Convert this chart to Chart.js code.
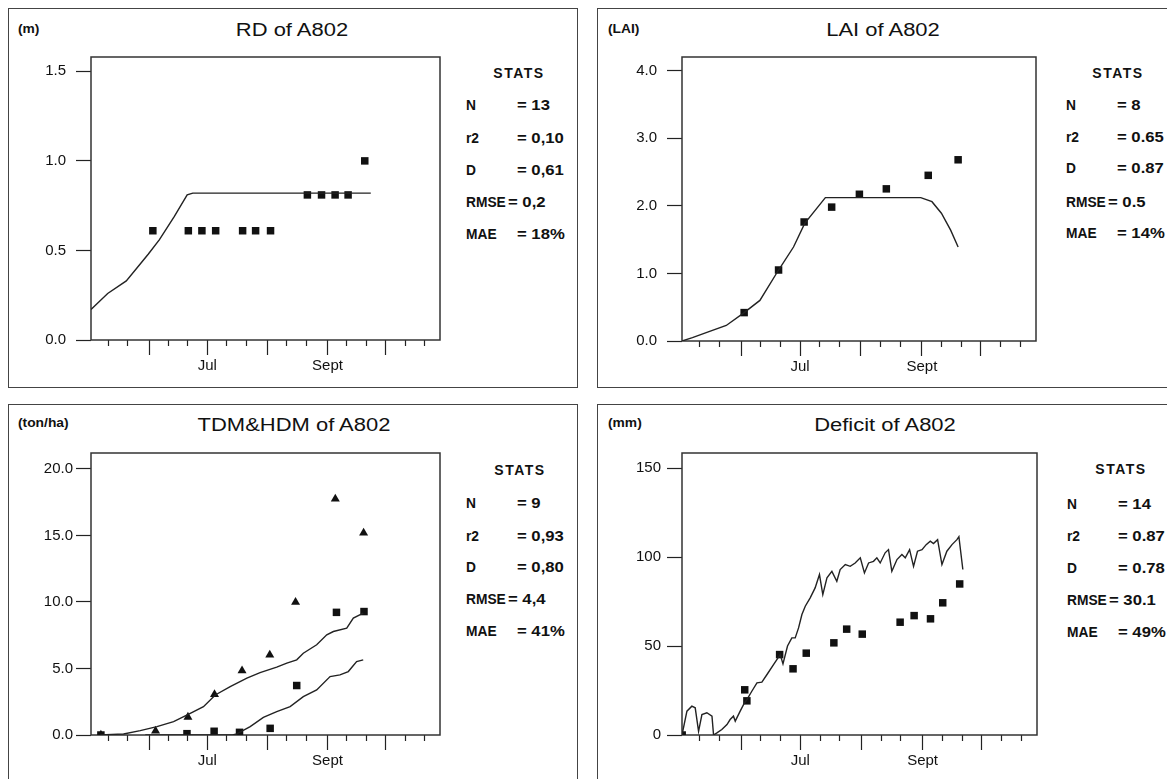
<!DOCTYPE html>
<html>
<head>
<meta charset="utf-8">
<title>A802</title>
<script src="https://cdn.jsdelivr.net/npm/chart.js@4.4.1/dist/chart.umd.min.js"></script>
<style>
  body { margin: 0; width: 1167px; height: 779px; overflow: hidden; position: relative;
         background: #fff; color: #111; font-family: "Liberation Sans", Arial, sans-serif; }
  .frame { position: absolute; border: 1.5px solid #444; box-sizing: border-box; }
  .t { position: absolute; white-space: nowrap; line-height: 1; }
  .title { font-size: 18px; transform: translate(-50%, -50%) scaleX(1.22); }
  .unit { font-size: 12px; font-weight: bold; transform-origin: left center; transform: translateY(-50%) scaleX(1.15); }
  .sc { font-size: 14px; font-weight: bold; letter-spacing: 1.5px; transform: translate(-50%, -50%); }
  .sl { font-size: 14.5px; font-weight: bold; transform-origin: left center; transform: translateY(-50%) scaleX(0.95); }
  .sv { font-size: 14.5px; font-weight: bold; transform-origin: left center; transform: translateY(-50%) scaleX(1.15); }
  canvas { position: absolute; }
</style>
</head>
<body>
<div class="frame" style="left:8px;top:8px;width:570px;height:380px"></div>
<div class="frame" style="left:597px;top:8px;width:600px;height:380px"></div>
<div class="frame" style="left:8px;top:404px;width:570px;height:420px"></div>
<div class="frame" style="left:597px;top:404px;width:600px;height:420px"></div>

<div class="t unit" style="left:18px;top:29px">(m)</div>
<div class="t title" style="left:292px;top:30px">RD of A802</div>
<div class="t unit" style="left:608px;top:29px">(LAI)</div>
<div class="t title" style="left:883px;top:30px">LAI of A802</div>
<div class="t unit" style="left:18px;top:423px">(ton/ha)</div>
<div class="t title" style="left:294px;top:425px">TDM&amp;HDM of A802</div>
<div class="t unit" style="left:608px;top:423px">(mm)</div>
<div class="t title" style="left:885px;top:425px">Deficit of A802</div>

<div id="stats"></div>

<canvas id="rd"></canvas>
<canvas id="lai"></canvas>
<canvas id="dm"></canvas>
<canvas id="def"></canvas>

<script>
// x axis: day of year, ticks every ten days, long ticks on the 1st of the month
const xTickDays = [131, 141, 152, 162, 172, 182, 192, 202, 213, 223, 233, 244, 254, 264, 274, 284, 294];
const monthStartDays = [152, 182, 213, 244, 274];
const xLabelDays = [182, 244];
const xLabelText = ['Jul', 'Sept'];

// RD (m)
const rdSimDay = [122, 130.6, 140.2, 147.8, 151.6, 157.3, 165.0, 171.6, 174.5, 266.3];
const rdSimVal = [0.17, 0.26, 0.33, 0.43, 0.48, 0.56, 0.69, 0.81, 0.82, 0.82];
const rdObsDay = [153.9, 172.2, 179.2, 186.3, 200.2, 206.9, 214.6, 233.6, 240.9, 247.9, 254.6, 263.2];
const rdObsVal = [0.61, 0.61, 0.61, 0.61, 0.61, 0.61, 0.61, 0.81, 0.81, 0.81, 0.81, 1.0];
const rdTicks = [0, 0.5, 1.0, 1.5];
const rdTickLabels = ['0.0', '0.5', '1.0', '1.5'];

// LAI
const laiSimDay = [122, 127.3, 135.0, 144.5, 153.6, 161.6, 171.1, 178.7, 184.4, 194.9, 243.4, 249.1, 253.9, 258.6, 262.4];
const laiSimVal = [0, 0.05, 0.13, 0.23, 0.42, 0.60, 1.05, 1.39, 1.74, 2.12, 2.12, 2.06, 1.89, 1.64, 1.39];
const laiObsDay = [153.6, 171.1, 184.1, 198.1, 212.2, 225.9, 247.2, 262.4];
const laiObsVal = [0.42, 1.05, 1.76, 1.98, 2.17, 2.25, 2.45, 2.68];
const laiTicks = [0, 1, 2, 3, 4];
const laiTickLabels = ['0.0', '1.0', '2.0', '3.0', '4.0'];

// TDM & HDM (ton/ha)
const tdmSimDay = [126.8, 138.8, 147.4, 156.0, 164.6, 173.2, 180.0, 186.1, 193.8, 202.4, 209.2, 217.8, 223.0, 228.1, 231.5, 238.4, 243.6, 247.0, 253.9, 257.3, 262.4];
const tdmSimVal = [0, 0.08, 0.33, 0.63, 1.0, 1.63, 2.13, 3.01, 3.64, 4.27, 4.69, 5.1, 5.4, 5.65, 6.15, 6.78, 7.53, 7.78, 8.03, 8.79, 9.16];
const hdmSimDay = [150, 195, 197.2, 204.1, 210.9, 217.8, 224.7, 231.5, 238.4, 245.3, 250.4, 254.7, 259.0, 262.4];
const hdmSimVal = [0, 0, 0.08, 0.63, 1.33, 1.76, 2.13, 2.88, 3.39, 4.39, 4.52, 4.77, 5.52, 5.65];
const tdmObsDay = [127.1, 155.3, 172.0, 185.7, 199.9, 214.2, 227.5, 248.0, 262.6];
const tdmObsVal = [0.0, 0.3, 1.35, 3.05, 4.83, 6.02, 9.98, 17.75, 15.19];
const hdmObsDay = [127.1, 171.5, 185.5, 198.6, 214.4, 228.1, 248.6, 262.8];
const hdmObsVal = [0.0, 0.1, 0.28, 0.2, 0.5, 3.72, 9.22, 9.28];
const dmTicks = [0, 5, 10, 15, 20];
const dmTickLabels = ['0.0', '5.0', '10.0', '15.0', '20.0'];

// Deficit (mm)
const defSimDay = [122.0, 124.5, 127.0, 128.7, 130.4, 132.1, 134.6, 137.2, 138.0, 139.7, 142.2, 144.8, 146.4, 148.1, 149.0,
  151.5, 153.2, 154.9, 157.4, 160.0, 162.5, 165.1, 168.4, 171.8, 173.2, 175.5, 177.7, 179.4, 181.1, 182.8, 184.5, 187.0,
  189.5, 191.7, 193.4, 195.5, 198.0, 200.5, 202.2, 204.8, 207.3, 209.8, 212.4, 214.5, 216.6, 219.1, 220.8, 222.5, 225.0,
  226.7, 228.4, 231.0, 233.5, 235.2, 237.4, 239.4, 241.4, 243.7, 245.8, 247.9, 249.5, 251.6, 253.8, 256.3, 258.9, 261.4,
  262.4, 264.4];
const defSimVal = [0, 13.4, 16.2, 15.3, 2.1, 11.5, 12.5, 10.6, 0, 1.2, 3.1, 5.9, 8.7, 10.6, 7.8,
  13.4, 17.1, 19.9, 24.6, 29.3, 29.7, 34.0, 39.6, 45.2, 40.0, 50.0, 54.6, 54.6, 60.2, 67.7, 72.4, 77.1,
  82.7, 90.2, 78.9, 88.3, 92.0, 86.4, 93.0, 95.8, 94.8, 96.7, 99.6, 91.1, 96.7, 97.6, 99.6, 96.7, 102.4,
  104.2, 92.0, 98.6, 101.4, 99.6, 104.2, 94.8, 103.3, 104.2, 107.0, 108.9, 107.6, 109.8, 95.8, 103.3, 107.0, 109.8,
  111.5, 93.0];
const defObsDay = [122.1, 153.8, 154.9, 171.5, 178.3, 185.0, 199.0, 205.5, 213.4, 232.6, 239.7, 248.0, 254.2, 262.8];
const defObsVal = [0, 25.4, 19.2, 45.2, 37.2, 46.0, 51.8, 59.5, 56.7, 63.4, 67.1, 65.3, 74.3, 84.9];
const defTicks = [0, 50, 100, 150];
const defTickLabels = ['0', '50', '100', '150'];

// stats boxes
const statNames = ['N', 'r2', 'D', 'RMSE', 'MAE'];
const rdStats = ['= 13', '= 0,10', '= 0,61', '= 0,2', '= 18%'];
const laiStats = ['= 8', '= 0.65', '= 0.87', '= 0.5', '= 14%'];
const dmStats = ['= 9', '= 0,93', '= 0,80', '= 4,4', '= 41%'];
const defStats = ['= 14', '= 0.87', '= 0.78', '= 30.1', '= 49%'];

const FONT = '"Liberation Sans", Arial, sans-serif';
Chart.defaults.font.family = FONT;
Chart.defaults.color = '#111';

function addStats(head, x, values, rows, xRmse) {
  const box = document.getElementById('stats');
  let h = `<div class="t sc" style="left:${head[0]}px;top:${head[1]}px">STATS</div>`;
  statNames.forEach((n, i) => {
    const vx = n === 'RMSE' ? xRmse : x + 51;
    h += `<div class="t sl" style="left:${x}px;top:${rows[i]}px">${n}</div>`;
    h += `<div class="t sv" style="left:${vx}px;top:${rows[i]}px">${values[i]}</div>`;
  });
  box.insertAdjacentHTML('beforeend', h);
}
addStats([519, 73], 466, rdStats, [105, 138, 170, 202, 234], 508);
addStats([1118, 73], 1066, laiStats, [105, 137, 168, 202, 233], 1108);
addStats([520, 470], 466, dmStats, [503, 536, 567, 599, 631], 508);
addStats([1121, 469], 1067, defStats, [504, 536, 568, 600, 632], 1109);

const plotFrame = {
  id: 'plotFrame',
  beforeDatasetsDraw(chart) {
    const { ctx, chartArea: a } = chart;
    ctx.save();
    ctx.strokeStyle = '#333';
    ctx.lineWidth = 1.5;
    ctx.strokeRect(a.left, a.top, a.right - a.left, a.bottom - a.top);
    ctx.restore();
  }
};

const pts = (xs, ys) => xs.map((x, i) => ({ x: x, y: ys[i] }));

function simLine(xs, ys) {
  return { data: pts(xs, ys), showLine: true, pointRadius: 0, borderColor: '#222', borderWidth: 1.4, fill: false, tension: 0 };
}
function obs(xs, ys, style) {
  return { data: pts(xs, ys), showLine: false, pointStyle: style, pointRadius: style === 'rect' ? 5.3 : 5.2,
    backgroundColor: '#111', borderColor: '#111', borderWidth: 0 };
}

const AXW = 80, AXH = 40, PT = 24, PR = 12;

function makePanel(id, box, yMax, yTicks, yLabels, yPad, datasets) {
  const cv = document.getElementById(id);
  cv.width = box.r - box.l + AXW + PR;
  cv.height = box.b - box.t + PT + AXH;
  cv.style.left = (box.l - AXW) + 'px';
  cv.style.top = (box.t - PT) + 'px';
  new Chart(cv, {
    type: 'scatter',
    data: { datasets: datasets },
    options: {
      responsive: false,
      animation: false,
      layout: { padding: { top: PT, right: PR, left: 0, bottom: 0 } },
      plugins: { legend: { display: false }, tooltip: { enabled: false } },
      scales: {
        x: {
          type: 'linear', min: 122, max: 302,
          afterBuildTicks: s => { s.ticks = xTickDays.map(v => ({ value: v })); },
          afterFit: s => { s.height = AXH; },
          border: { display: false },
          grid: {
            drawOnChartArea: false, drawTicks: true, tickLength: 15, color: '#222', tickWidth: 1.2,
            tickBorderDash: c => (c.tick && monthStartDays.includes(c.tick.value)) ? [] : [6, 40]
          },
          ticks: {
            autoSkip: false, maxRotation: 0, padding: 2, color: '#111', font: { size: 15 },
            callback: v => { const i = xLabelDays.indexOf(v); return i >= 0 ? xLabelText[i] : ''; }
          }
        },
        y: {
          min: 0, max: yMax,
          afterBuildTicks: s => { s.ticks = yTicks.map(v => ({ value: v })); },
          afterFit: s => { s.width = AXW; },
          border: { display: false },
          grid: { drawOnChartArea: false, drawTicks: true, tickLength: 15, color: '#222', tickWidth: 1.2 },
          ticks: { padding: yPad, color: '#111', font: { size: 15 }, callback: (v, i) => yLabels[i] }
        }
      }
    },
    plugins: [plotFrame]
  });
}

makePanel('rd', { l: 91, t: 57, r: 440, b: 340 }, 1.58, rdTicks, rdTickLabels, 10, [
  simLine(rdSimDay, rdSimVal),
  obs(rdObsDay, rdObsVal, 'rect')
]);
makePanel('lai', { l: 682, t: 57, r: 1036, b: 341 }, 4.2, laiTicks, laiTickLabels, 10, [
  simLine(laiSimDay, laiSimVal),
  obs(laiObsDay, laiObsVal, 'rect')
]);
makePanel('dm', { l: 91, t: 453, r: 440, b: 735 }, 21.2, dmTicks, dmTickLabels, 3, [
  simLine(tdmSimDay, tdmSimVal),
  simLine(hdmSimDay, hdmSimVal),
  obs(hdmObsDay, hdmObsVal, 'rect'),
  obs(tdmObsDay, tdmObsVal, 'triangle')
]);
makePanel('def', { l: 682, t: 453, r: 1037, b: 735 }, 158.5, defTicks, defTickLabels, 6, [
  simLine(defSimDay, defSimVal),
  obs(defObsDay, defObsVal, 'rect')
]);
</script>
</body>
</html>
